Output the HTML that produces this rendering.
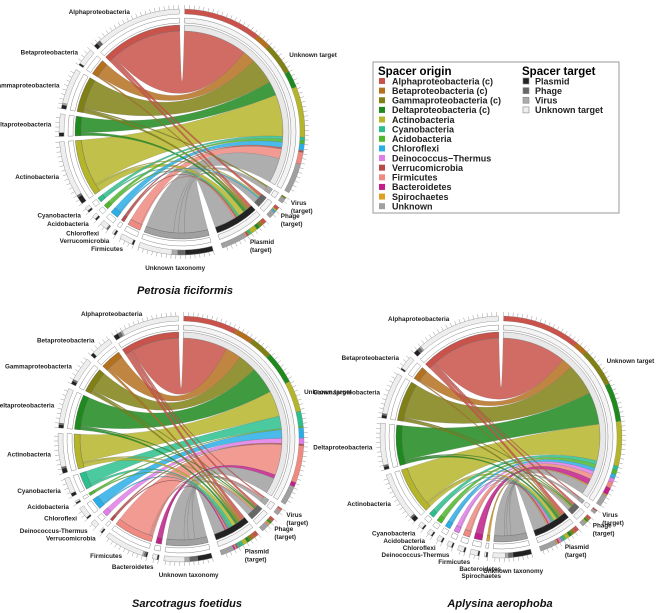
<!DOCTYPE html>
<html><head><meta charset="utf-8">
<style>
body{margin:0;background:#fff;}
svg{display:block;font-family:"Liberation Sans",sans-serif;}
</style></head>
<body>
<svg id="fig" width="666" height="613" viewBox="0 0 666 613">
<g id="legend">
<rect x="373" y="62" width="246" height="151" fill="#fff" stroke="#999" stroke-width="1"/>
<text x="378" y="75" font-size="11.5" font-weight="bold">Spacer origin</text>
<text x="522" y="75" font-size="11.5" font-weight="bold">Spacer target</text>
</g>
</svg>
<script>
const colors = {
 'Alphaproteobacteria':'#c9524a','Betaproteobacteria':'#b5701e','Gammaproteobacteria':'#808015',
 'Deltaproteobacteria':'#1e8a1e','Actinobacteria':'#b5b52a','Cyanobacteria':'#2bbf8e',
 'Acidobacteria':'#4db82a','Chloroflexi':'#2aaee8','Deinococcus-Thermus':'#e07de8',
 'Verrucomicrobia':'#b84a48','Firmicutes':'#f08a80','Bacteroidetes':'#c21f8a',
 'Spirochaetes':'#dca024','Unknown taxonomy':'#a0a0a0'};
const legendOrigins = ['Alphaproteobacteria (c)','Betaproteobacteria (c)','Gammaproteobacteria (c)','Deltaproteobacteria (c)','Actinobacteria','Cyanobacteria','Acidobacteria','Chloroflexi','Deinococcus\u2212Thermus','Verrucomicrobia','Firmicutes','Bacteroidetes','Spirochaetes','Unknown'];
const legendOriginColors = ['#c9524a','#b5701e','#808015','#1e8a1e','#b5b52a','#2bbf8e','#4db82a','#2aaee8','#e07de8','#b84a48','#f08a80','#c21f8a','#dca024','#a0a0a0'];
const targetNames = ['Unknown target','Virus','Phage','Plasmid'];
const targetColors = ['#eeeeee','#aaaaaa','#666666','#222222'];
const legendTargets = ['Plasmid','Phage','Virus','Unknown target'];
const legendTargetColors = ['#222222','#666666','#aaaaaa','#eeeeee'];

// Petrosia ficiformis
const origins1 = ['Alphaproteobacteria','Betaproteobacteria','Gammaproteobacteria','Deltaproteobacteria','Actinobacteria','Cyanobacteria','Acidobacteria','Chloroflexi','Verrucomicrobia','Firmicutes','Unknown taxonomy'];
const ut1 =      [46, 9, 19, 10, 30, 2, 2, 4, 1, 7, 18];
const virus1 =   [0, 0, 1, 0, 0, 0, 0, 0, 0, 0, 3];
const phage1 =   [2, 0, 0, 0, 1, 0, 0, 1, 0, 0, 4];
const plasmid1 = [2, 1, 2, 2, 4, 1, 1, 0, 1, 1, 15];
// Sarcotragus foetidus
const origins2 = ['Alphaproteobacteria','Betaproteobacteria','Gammaproteobacteria','Deltaproteobacteria','Actinobacteria','Cyanobacteria','Acidobacteria','Chloroflexi','Deinococcus-Thermus','Verrucomicrobia','Firmicutes','Bacteroidetes','Unknown taxonomy'];
const ut2 =      [36, 13, 15, 22, 21, 10, 1, 7, 4, 1, 25, 3, 13];
const virus2 =   [1, 0, 0, 0, 0, 0, 0, 0, 0, 0, 1, 0, 3];
const phage2 =   [2, 0, 1, 1, 1, 0, 0, 0, 0, 0, 1, 0, 5];
const plasmid2 = [3, 2, 2, 2, 3, 2, 1, 1, 0, 1, 1, 1, 9];
// Aplysina aerophoba
const origins3 = ['Alphaproteobacteria','Betaproteobacteria','Gammaproteobacteria','Deltaproteobacteria','Actinobacteria','Cyanobacteria','Acidobacteria','Chloroflexi','Deinococcus-Thermus','Firmicutes','Bacteroidetes','Spirochaetes','Unknown taxonomy'];
const ut3 =      [54, 9, 27, 27, 31, 3, 3, 3, 3, 4, 5, 1, 8];
const virus3 =   [1, 0, 0, 0, 0, 0, 0, 0, 0, 0, 0, 0, 2];
const phage3 =   [2, 0, 1, 1, 1, 0, 0, 0, 0, 0, 0, 0, 3];
const plasmid3 = [3, 1, 2, 2, 3, 1, 1, 1, 1, 1, 1, 1, 12];

const NS='http://www.w3.org/2000/svg';
const fig=document.getElementById('fig');
function mk(tag,attrs,parent){const e=document.createElementNS(NS,tag);for(const k in attrs)e.setAttribute(k,attrs[k]);(parent||fig).appendChild(e);return e;}

const lg=document.getElementById('legend');
legendOrigins.forEach((n,i)=>{
  const y=81+i*9.63;
  const s=mk('rect',{x:379,y:y-3,width:6,height:6,fill:legendOriginColors[i]},lg);
  
  
  const t=mk('text',{x:392,y:y+3.3,'font-size':'9','font-weight':'bold',fill:'#222'},lg);
  t.textContent=n;
  
  
});
legendTargets.forEach((n,i)=>{
  const y=81+i*9.63;
  const s=mk('rect',{x:523,y:y-3,width:6,height:6,fill:legendTargetColors[i],stroke:'#888','stroke-width':0.6},lg);
  
  
  const t=mk('text',{x:535,y:y+3.3,'font-size':'9','font-weight':'bold',fill:'#222'},lg);
  t.textContent=n;
  
  
});

function pt(cx,cy,r,a){const t=a*Math.PI/180;return [cx+r*Math.sin(t),cy-r*Math.cos(t)];}
function band(cx,cy,r1,r2,a1,a2){
  const p1=pt(cx,cy,r2,a1),p2=pt(cx,cy,r2,a2),p3=pt(cx,cy,r1,a2),p4=pt(cx,cy,r1,a1);
  const lg=(a2-a1)>180?1:0;
  return `M${p1}A${r2},${r2} 0 ${lg} 1 ${p2}L${p3}A${r1},${r1} 0 ${lg} 0 ${p4}Z`;
}

function draw(cx,cy,r,names,ut,vir,pha,pla,title,tx,ty,utAngle){
  const g=mk('g',{});
  
  
  const mat=names.map((n,i)=>[ut[i],vir[i],pha[i],pla[i]]);
  const total=mat.flat().reduce((a,b)=>a+b,0);
  const gap=2.5;
  const ko=(196-gap*names.length)/total;
  const kt=(162-gap*4)/total;
  let cur=360-gap/2;
  const osec=[];
  mat.forEach(row=>{const s=row.reduce((a,b)=>a+b,0)*ko;osec.push([cur-s,cur]);cur-=s+gap;});
  cur=gap/2;
  const tsec=[];
  for(let j=0;j<4;j++){let s=0;mat.forEach(row=>s+=row[j]);s*=kt;tsec.push([cur,cur+s]);cur+=s+gap;}
  const tpos=tsec.map(s=>s[0]);
  const chords=[];
  osec.forEach((sec,i)=>{
    let pos=sec[1];
    for(let j=0;j<4;j++){
      const v=mat[i][j]; if(v<=0)continue;
      const a2=pos,a1=pos-v*ko; pos=a1;
      const b1=tpos[j],b2=b1+v*kt; tpos[j]=b2;
      chords.push({i,j,a1,a2,b1,b2});
    }
  });
  const rc=r;
  chords.sort((A,B)=>(B.a2-B.a1)-(A.a2-A.a1));
  chords.forEach(c=>{
    const pa1=pt(cx,cy,rc,c.a1),pa2=pt(cx,cy,rc,c.a2),pb1=pt(cx,cy,rc,c.b1),pb2=pt(cx,cy,rc,c.b2);
    const la=(c.a2-c.a1)>180?1:0, lb=(c.b2-c.b1)>180?1:0;
    const d=`M${pa1}A${rc},${rc} 0 ${la} 1 ${pa2}Q${cx},${cy} ${pb1}A${rc},${rc} 0 ${lb} 1 ${pb2}Q${cx},${cy} ${pa1}Z`;
    const p=mk('path',{d,fill:colors[names[c.i]],'fill-opacity':0.85,stroke:'#555','stroke-width':0.3,'stroke-opacity':0.5},g);
    
    
  });
  osec.forEach((sec,i)=>{
    const b=mk('path',{d:band(cx,cy,r,r+6,sec[0],sec[1]),fill:colors[names[i]],stroke:'#666','stroke-width':0.4},g);
    
    
    mk('path',{d:band(cx,cy,r+8,r+13,sec[0],sec[1]),fill:'#fff',stroke:'#888','stroke-width':0.5},g);
    let pos=sec[1];
    for(let j=0;j<4;j++){const v=mat[i][j]*ko;if(v<=0)continue;
      mk('path',{d:band(cx,cy,r+17,r+22,pos-v,pos),fill:targetColors[j],stroke:'#888','stroke-width':0.4},g);pos-=v;}
  });
  tsec.forEach((sec,j)=>{
    const b=mk('path',{d:band(cx,cy,r,r+6,sec[0],sec[1]),fill:j==0?'#e8e8e8':targetColors[j],stroke:'#777','stroke-width':0.4},g);
    
    
    mk('path',{d:band(cx,cy,r+8,r+13,sec[0],sec[1]),fill:'#f4f4f4',stroke:'#888','stroke-width':0.5},g);
    let pos=sec[0];
    mat.forEach((row,i)=>{const v=row[j]*kt;if(v<=0)return;
      mk('path',{d:band(cx,cy,r+17,r+22,pos,pos+v),fill:colors[names[i]],stroke:'#777','stroke-width':0.3},g);pos+=v;});
  });
  [...osec,...tsec].forEach(sec=>{
    for(let a=sec[0];a<=sec[1];a+=2.2){
      const p1=pt(cx,cy,r+22,a),p2=pt(cx,cy,r+26,a);
      mk('line',{x1:p1[0],y1:p1[1],x2:p2[0],y2:p2[1],stroke:'#999','stroke-width':0.5},g);
    }
  });
  let lastY=-1e9;
  const R=r+30;
  osec.forEach((sec,i)=>{
    const m=(sec[0]+sec[1])/2;
    let y=pt(cx,cy,R,m)[1];
    if(y<lastY+7) y=lastY+7;
    lastY=y;
    const last=(i==names.length-1);
    let x,anchor='end';
    if(last){x=pt(cx,cy,R,m)[0];y=cy+R+5;anchor='middle';}
    else{const dy=Math.max(-1,Math.min(1,(y-cy)/R));x=cx-R*Math.sqrt(1-dy*dy);}
    const t=mk('text',{x:x,y:y+2,'font-size':'6.3','font-weight':'bold','text-anchor':anchor,fill:'#222'},g);
    t.textContent=names[i];
    
    
  });
  tsec.forEach((sec,j)=>{
    const m=(sec[0]+sec[1])/2;
    const p=pt(cx,cy,r+30,j==0?utAngle:m);
    const t=mk('text',{x:p[0],y:p[1],'font-size':'6.3','font-weight':'bold','text-anchor':'start',fill:'#222'},g);
    
    
    if(j==0){t.textContent=targetNames[j];}
    else{
      const s1=mk('tspan',{x:p[0]},t);s1.textContent=targetNames[j];
      const s2=mk('tspan',{x:p[0],dy:8},t);s2.textContent='(target)';
    }
  });
  const ttl=mk('text',{x:tx,y:ty,'font-size':'11','font-weight':'bold','font-style':'italic','text-anchor':'middle',fill:'#111'},g);
  ttl.textContent=title;
  
  
}
draw(182,132,101,origins1,ut1,virus1,phage1,plasmid1,'Petrosia ficiformis',185,294,55);
draw(181,439,101,origins2,ut2,virus2,phage2,plasmid2,'Sarcotragus foetidus',187,607,70);
draw(501,437,99,origins3,ut3,virus3,phage3,plasmid3,'Aplysina aerophoba',500,607,55);
</script>
</body></html>
